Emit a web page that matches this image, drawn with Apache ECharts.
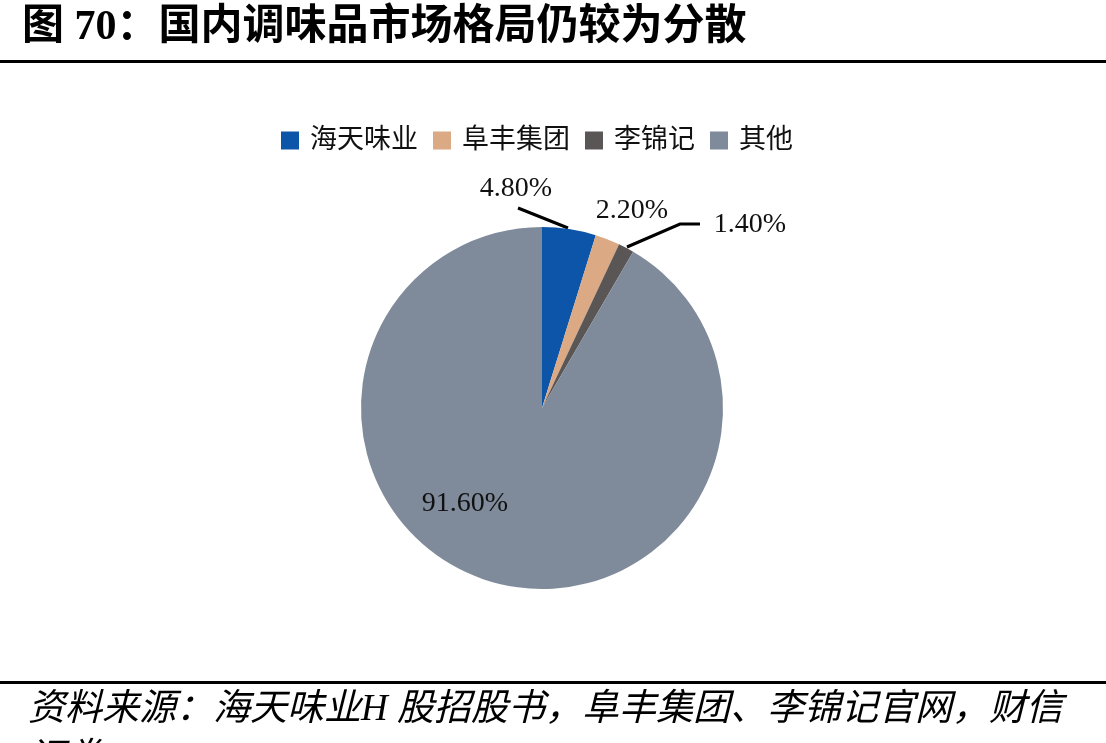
<!DOCTYPE html>
<html>
<head>
<meta charset="utf-8">
<title>国内调味品市场格局</title>
<script src="https://cdn.jsdelivr.net/npm/echarts@6/dist/echarts.min.js"></script>
<style>
  html, body { margin: 0; padding: 0; background: #fff; }
  #chart { width: 1106px; height: 743px; }
</style>
</head>
<body>
<div id="chart"></div>
<script>
// 公司名称与市场份额(%)
const companies = ['海天味业', '阜丰集团', '李锦记', '其他']
const shares = [4.8, 2.2, 1.4, 91.6]
const colors = ['#0C55A8', '#DBA983', '#5B5656', '#7F8B9A']

// 每个标签的位置(像素), 以及引导线
const labelPos = [[516, 189], [632, 211], [750, 225], [465, 504]]
const guideLines = [
  [[568, 228], [518, 208]],
  null,
  [[627, 247], [680, 224], [700, 224]],
  null
]

const serif = "'Liberation Serif', 'Noto Sans CJK SC', serif"

const chartInstance = echarts.init(document.getElementById('chart'))

const option = {
  animation: false,
  backgroundColor: '#fff',
  color: colors,
  legend: {
    left: 276,
    top: 122,
    itemWidth: 18,
    itemHeight: 18,
    itemGap: 15,
    icon: 'rect',
    textStyle: {
      fontFamily: serif,
      fontSize: 27,
      color: '#111',
      padding: [0, 0, 0, 6]
    },
    data: companies
  },
  graphic: [
    {
      type: 'text',
      left: 22,
      top: 7,
      style: {
        text: '图 70：国内调味品市场格局仍较为分散',
        fontFamily: serif,
        fontWeight: 'bold',
        fontSize: 42,
        fill: '#000'
      }
    },
    {
      type: 'rect',
      shape: { x: 0, y: 60, width: 1106, height: 3 },
      style: { fill: '#000' }
    },
    {
      type: 'rect',
      shape: { x: 0, y: 681, width: 1106, height: 3 },
      style: { fill: '#000' }
    },
    {
      type: 'text',
      left: 28,
      top: 692,
      style: {
        text: '资料来源：海天味业H 股招股书，阜丰集团、李锦记官网，财信',
        fontFamily: serif,
        fontStyle: 'italic',
        fontSize: 37,
        fill: '#000'
      }
    },
    {
      type: 'text',
      left: 28,
      top: 741,
      style: {
        text: '证券',
        fontFamily: serif,
        fontStyle: 'italic',
        fontSize: 37,
        fill: '#000'
      }
    }
  ],
  series: [
    {
      type: 'pie',
      center: [542, 408],
      radius: 181,
      startAngle: 90,
      clockwise: true,
      avoidLabelOverlap: false,
      itemStyle: { borderWidth: 0 },
      label: {
        show: true,
        position: 'outside',
        formatter: p => p.value.toFixed(2) + '%',
        fontFamily: serif,
        fontSize: 28,
        color: '#111'
      },
      labelLine: {
        show: true,
        lineStyle: { color: '#000', width: 3 }
      },
      labelLayout: function (params) {
        const i = params.dataIndex
        const out = {
          x: labelPos[i][0],
          y: labelPos[i][1],
          align: 'center',
          verticalAlign: 'middle'
        }
        if (guideLines[i]) out.labelLinePoints = guideLines[i]
        return out
      },
      data: companies.map((name, i) => ({
        name: name,
        value: shares[i],
        labelLine: { show: guideLines[i] !== null }
      }))
    }
  ]
}

chartInstance.setOption(option)
window.addEventListener('resize', () => chartInstance.resize())
</script>
</body>
</html>
